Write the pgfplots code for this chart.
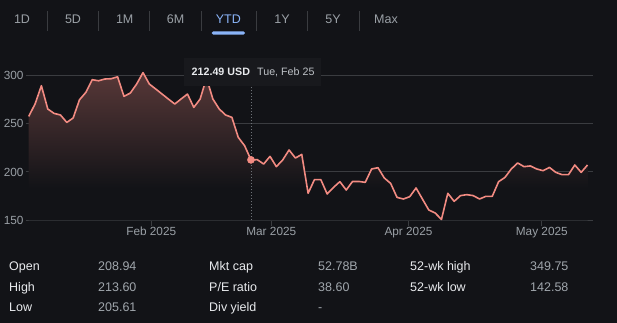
\documentclass[border=0pt]{standalone}
\usepackage{pgfplots}
\usepackage{pgfplotstable}
\pgfplotsset{compat=1.18}
\usepackage{fontspec}
\setmainfont{Liberation Sans}
\definecolor{bgc}{RGB}{18,19,23}
\definecolor{gridc}{RGB}{58,60,64}
\definecolor{linec}{RGB}{242,139,130}
\definecolor{filltop}{RGB}{88,56,56}
\definecolor{tabc}{RGB}{154,160,166}
\definecolor{selc}{RGB}{138,180,248}
\definecolor{tickc}{RGB}{154,160,166}
\definecolor{labc}{RGB}{232,234,237}
\definecolor{valc}{RGB}{160,166,172}
\definecolor{tipc}{RGB}{24,25,29}
\definecolor{datec}{RGB}{189,193,198}
\definecolor{dotc}{RGB}{110,114,120}
\pgfdeclareverticalshading{areafade}{100bp}{color(0bp)=(bgc); color(36bp)=(bgc); color(75bp)=(filltop); color(100bp)=(filltop)}

\pgfplotstableread{
i v
0 257.3
1 270.1
2 289.0
3 265.0
4 260.4
5 258.8
6 251.1
7 255.7
8 274.5
9 282.1
10 295.2
11 294.1
12 295.9
13 296.2
14 298.2
15 278.0
16 281.4
17 290.7
18 302.5
19 290.7
20 285.6
21 280.4
22 275.2
23 270.1
24 275.3
25 280.4
26 266.6
27 275.3
28 297.0
29 275.3
30 265.0
31 258.8
32 256.3
33 235.7
34 227.1
35 212.49
36 212.7
37 208.2
38 216.1
39 205.5
40 212.4
41 222.7
42 214.4
43 218.1
44 178.0
45 192.1
46 192.1
47 177.3
48 184.1
49 190.0
50 181.4
51 190.2
52 190.2
53 189.3
54 203.1
55 204.4
56 193.8
57 188.2
58 173.8
59 172.1
60 174.5
61 183.5
62 172.1
63 160.8
64 157.7
65 151.1
66 178.0
67 169.7
68 175.6
69 176.6
70 175.6
71 172.1
72 174.9
73 174.9
74 190.0
75 194.4
76 203.1
77 209.3
78 205.5
79 206.2
80 203.1
81 201.3
82 204.7
83 199.6
84 197.2
85 197.2
86 207.2
87 199.6
88 207.2
}\pricedata

\begin{document}
\begin{tikzpicture}[x=1pt,y=1pt]
\fill[bgc] (0,0) rectangle (617,323);
\useasboundingbox (0,0) rectangle (617,323);
% range tabs
\foreach \xx/\lab in {22/1D,73/5D,124.7/1M,175.5/6M,282/1Y,333/5Y,386/Max}
  \node[anchor=base, inner sep=0pt, text=tabc, font=\fontsize{12.5}{14}\selectfont] at (\xx,299.2) {\lab};
\node[anchor=base, inner sep=0pt, text=selc, font=\fontsize{12.5}{14}\selectfont] at (228.3,299.2) {YTD};
\foreach \xx in {47.7,98.7,149.3,201.3,256.3,307.3,359.3}
  \draw[gridc, line width=1pt] (\xx,292.3) -- (\xx,312);
\fill[selc, rounded corners=1.5pt] (211.7,288.3) rectangle (245,291.5);

\begin{axis}[
  at={(40.5,105.8)}, anchor=south west, scale only axis,
  width=567pt, height=155.1pt,
  xmin=-0.47, xmax=88.82, ymin=150, ymax=310,
  axis line style={draw=none},
  ytick={150,200,250,300},
  ymajorgrids, grid style={gridc, line width=1pt},
  ytick style={draw=none},
  xtick={19.3,38.2,59.8,80.8},
  xticklabels={Feb 2025,Mar 2025,Apr 2025,May 2025},
  xtick style={gridc, line width=1pt},
  tick align=outside, tick pos=bottom,
  major tick length=6pt,
  /pgf/number format/assume math mode=true,
  ticklabel style={font=\fontsize{11.8}{13}\selectfont, text=tickc},
  yticklabel style={anchor=east, inner sep=0pt, xshift=4pt},
  xticklabel style={anchor=base, inner sep=0pt, yshift=-9pt},
  clip=false,
]
\addplot[draw=none, shading=areafade, forget plot] table[x=i,y=v] {\pricedata} |- (axis cs:0,150) -- cycle;
\addplot[dotc, line width=0.9pt, dash pattern=on 1pt off 2pt, forget plot] coordinates {(35,150) (35,288)};
\addplot[linec, line width=1.6pt, line join=round, mark=none] table[x=i,y=v] {\pricedata};
\addplot[only marks, mark=*, mark size=3.6pt, color=linec] coordinates {(35,212.49)};
\end{axis}

% tooltip
\fill[tipc] (184,237) rectangle (321,265);
\node[anchor=base west, inner sep=0pt, text=labc, font=\bfseries\fontsize{10.7}{12}\selectfont] at (191.5,247.5) {212.49 USD};
\node[anchor=base west, inner sep=0pt, text=datec, font=\fontsize{10.7}{12}\selectfont] at (257,247.5) {Tue, Feb 25};

% key stats
\def\fs{\fontsize{12.5}{14}\selectfont}
\node[anchor=base west, inner sep=0pt, text=labc, font=\fs] at (9,52) {Open};
\node[anchor=base west, inner sep=0pt, text=labc, font=\fs] at (9,31.5) {High};
\node[anchor=base west, inner sep=0pt, text=labc, font=\fs] at (9,11) {Low};
\node[anchor=base west, inner sep=0pt, text=valc, font=\fs] at (98,52) {208.94};
\node[anchor=base west, inner sep=0pt, text=valc, font=\fs] at (98,31.5) {213.60};
\node[anchor=base west, inner sep=0pt, text=valc, font=\fs] at (98,11) {205.61};
\node[anchor=base west, inner sep=0pt, text=labc, font=\fs] at (209,52) {Mkt cap};
\node[anchor=base west, inner sep=0pt, text=labc, font=\fs] at (209,31.5) {P/E ratio};
\node[anchor=base west, inner sep=0pt, text=labc, font=\fs] at (209,11) {Div yield};
\node[anchor=base west, inner sep=0pt, text=valc, font=\fs] at (318,52) {52.78B};
\node[anchor=base west, inner sep=0pt, text=valc, font=\fs] at (318,31.5) {38.60};
\node[anchor=base west, inner sep=0pt, text=valc, font=\fs] at (318,11) {-};
\node[anchor=base west, inner sep=0pt, text=labc, font=\fs] at (410,52) {52-wk high};
\node[anchor=base west, inner sep=0pt, text=labc, font=\fs] at (410,31.5) {52-wk low};
\node[anchor=base west, inner sep=0pt, text=valc, font=\fs] at (530,52) {349.75};
\node[anchor=base west, inner sep=0pt, text=valc, font=\fs] at (530,31.5) {142.58};
\end{tikzpicture}
\end{document}
